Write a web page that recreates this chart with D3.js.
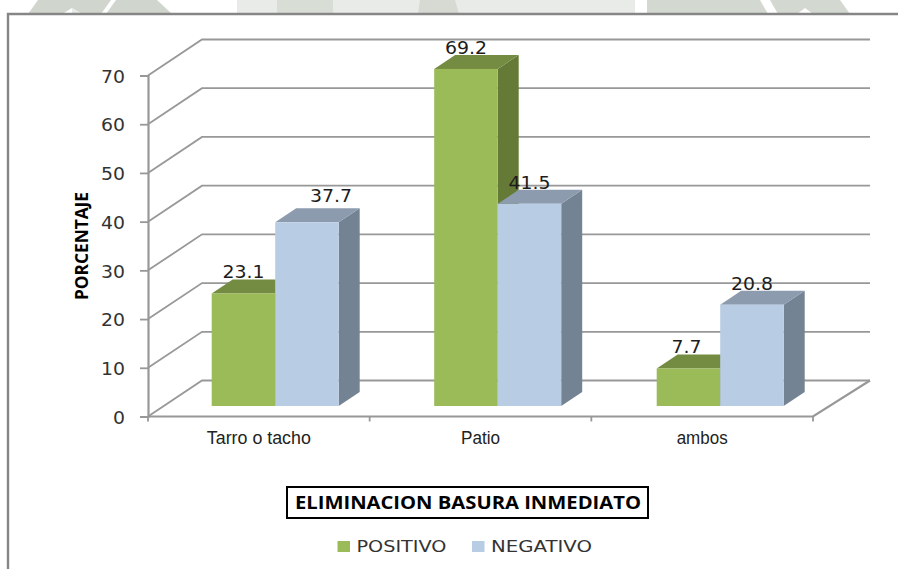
<!DOCTYPE html>
<html><head><meta charset="utf-8">
<script src="https://cdn.jsdelivr.net/npm/d3@7/dist/d3.min.js"></script>
<style>html,body{margin:0;padding:0;background:#fff}svg{display:block}</style>
</head><body><div id="c"></div>
<script>
const categories = ["Tarro o tacho", "Patio", "ambos"];
const seriesNames = ["POSITIVO", "NEGATIVO"];
const positivo = [23.1, 69.2, 7.7];
const negativo = [37.7, 41.5, 20.8];
const yTicks = [0, 10, 20, 30, 40, 50, 60, 70];

const W = 898, H = 569;
const svg = d3.select("#c").append("svg").attr("width", W).attr("height", H);

// faint watermark peeking out above the frame
const wm = [
  ["#d0d6cd", [[28,14],[38,0],[111,0],[101,14],[82,14],[72,8],[62,14]]],
  ["#e7eae6", [[72,14],[72,8],[82,14]]],
  ["#d0d6cd", [[116,0],[157,0],[172,14],[106,14]]],
  ["#e8ebe7", [[237,0],[635,0],[635,14],[237,14]]],
  ["#d8ddd6", [[277,0],[333,0],[333,14],[277,14]]],
  ["#d6dad3", [[420,0],[455,0],[459,14],[418,14]]],
  ["#d3d8d0", [[647,0],[760,0],[768,14],[647,14]]],
  ["#d3d8d0", [[770,0],[840,0],[850,14],[813,14],[805,8],[797,14],[778,14]]]
];
svg.append("g").selectAll("path").data(wm).join("path")
  .attr("d", d => d3.line()(d[1]) + "Z").attr("fill", d => d[0]);

// outer frame
svg.append("path").attr("d", "M8,569V14H898").attr("fill", "#fff")
  .attr("stroke", "#868686").attr("stroke-width", 2.4);

const y = d3.scaleLinear().domain([0, 70]).range([416.5, 75.5]);
const x = d3.scaleBand().domain(categories).range([148, 813]);
const barX = d3.scaleBand().domain(categories).range([148.7, 816.2]);
const inner = d3.scaleBand().domain(seriesNames).range([63, 190]);
const depth = { dx: 54, dy: 36 };        // chart wall depth
const barDepth = { dx: 21, dy: 14 };     // bar depth
const barBaseShift = 10.5;               // bars sit inside the floor
const gridColor = "#989898";

// gridlines: slanted wall segment + back wall
const grid = svg.append("g");
grid.selectAll("path").data(yTicks).join("path")
  .attr("d", t => `M148,${y(t)}L${148 + depth.dx},${y(t) - depth.dy}H870`)
  .attr("fill", "none").attr("stroke", gridColor).attr("stroke-width", 1.8);

// floor
svg.append("path")
  .attr("d", `M148,${y(0)}H813L870,${y(0) - depth.dy}`)
  .attr("fill", "none").attr("stroke", gridColor).attr("stroke-width", 2.2);

// y axis
const yAxis = d3.axisLeft(y).tickValues(yTicks).tickSize(8).tickPadding(15);
const gy = svg.append("g").attr("transform", "translate(148,0)").call(yAxis);
gy.select(".domain").attr("stroke", gridColor).attr("stroke-width", 2.2);
gy.selectAll(".tick line").attr("stroke", gridColor).attr("stroke-width", 1.8);
gy.selectAll(".tick text")
  .attr("font-family", "'DejaVu Sans'").attr("font-size", 17.5).attr("fill", "#333")
  .attr("dy", "0.38em")
  .attr("textLength", d => String(d).length * 12).attr("lengthAdjust", "spacingAndGlyphs");

// x axis boundary ticks
svg.append("g").selectAll("line")
  .data(categories.map(c => x(c)).concat([x.range()[1]])).join("line")
  .attr("x1", d => d).attr("x2", d => d)
  .attr("y1", y(0)).attr("y2", y(0) + 5)
  .attr("stroke", gridColor).attr("stroke-width", 1.8);

// x axis labels
const xAxis = d3.axisBottom(x).tickSize(0).tickPadding(0);
const gx = svg.append("g").attr("transform", `translate(0,${y(0)})`).call(xAxis);
gx.select(".domain").remove();
gx.selectAll(".tick text")
  .attr("font-family", "'Liberation Sans'").attr("font-size", 17.5).attr("fill", "#222")
  .attr("y", 27.5).attr("dy", 0)
  .attr("textLength", d => ({ "Tarro o tacho": 104, "Patio": 39, "ambos": 51 })[d])
  .attr("lengthAdjust", "spacingAndGlyphs");

// bars
const styles = {
  POSITIVO: { front: "#9bbb59", top: "#748b42", side: "#667a37" },
  NEGATIVO: { front: "#b8cce4", top: "#8d9bae", side: "#748393" }
};
const rows = [];
seriesNames.forEach((s, si) => {
  const vals = si === 0 ? positivo : negativo;
  categories.forEach((c, i) => rows.push({ s, c, v: vals[i] }));
});
const y0 = y(0) - barBaseShift;
const bars = svg.append("g").selectAll("g").data(rows).join("g");
const geom = d => {
  const l = barX(d.c) + inner(d.s), w = inner.bandwidth();
  return { l, w, r: l + w, t: y0 - (y(0) - y(d.v)) };
};
bars.append("path").attr("fill", d => styles[d.s].side).attr("d", d => {
  const g = geom(d);
  return `M${g.r},${g.t}l${barDepth.dx},${-barDepth.dy}V${y0 - barDepth.dy}L${g.r},${y0}Z`;
});
bars.append("path").attr("fill", d => styles[d.s].top).attr("d", d => {
  const g = geom(d);
  return `M${g.l},${g.t}l${barDepth.dx},${-barDepth.dy}h${g.w}l${-barDepth.dx},${barDepth.dy}Z`;
});
bars.append("rect").attr("fill", d => styles[d.s].front)
  .attr("x", d => geom(d).l).attr("y", d => geom(d).t)
  .attr("width", d => geom(d).w).attr("height", d => y0 - geom(d).t);

// data labels
const labelNudge = d => (d.s === "NEGATIVO" && d.c === "Tarro o tacho") ? { dx: 24, dy: -20 } : { dx: d.v < 10 ? -2 : 0, dy: -15 };
svg.append("g").selectAll("text").data(rows).join("text")
  .attr("x", d => geom(d).l + geom(d).w / 2 + labelNudge(d).dx)
  .attr("y", d => geom(d).t + labelNudge(d).dy)
  .attr("text-anchor", "middle")
  .attr("font-family", "'DejaVu Sans'").attr("font-size", 17.5).attr("fill", "#1c1c1c")
  .attr("textLength", d => String(d.v).length === 4 ? 42 : 30)
  .attr("lengthAdjust", "spacingAndGlyphs")
  .text(d => d.v.toFixed(1));

// axis title
svg.append("text")
  .attr("transform", "translate(88,246) rotate(-90)")
  .attr("text-anchor", "middle")
  .attr("font-family", "'Open Sans'").attr("font-weight", 700).attr("font-size", 18.5).attr("fill", "#000")
  .attr("textLength", 108).attr("lengthAdjust", "spacingAndGlyphs")
  .text("PORCENTAJE");

// chart title box
svg.append("rect").attr("x", 287).attr("y", 487).attr("width", 361).attr("height", 31)
  .attr("fill", "#fff").attr("stroke", "#000").attr("stroke-width", 2);
svg.append("text").attr("x", 295).attr("y", 509)
  .attr("font-family", "'Open Sans'").attr("font-weight", 700).attr("font-size", 17.5).attr("fill", "#000")
  .attr("textLength", 346).attr("lengthAdjust", "spacingAndGlyphs")
  .text("ELIMINACION BASURA INMEDIATO");

// legend
const legendX = d3.scaleOrdinal().domain(seriesNames).range([337.5, 472]);
const legendW = d3.scaleOrdinal().domain(seriesNames).range([90, 101]);
const lg = svg.append("g").selectAll("g").data(seriesNames).join("g")
  .attr("transform", d => `translate(${legendX(d)},541)`);
lg.append("rect").attr("width", 12.5).attr("height", 11).attr("fill", d => styles[d].front);
lg.append("text").attr("x", 19).attr("y", 11)
  .attr("font-family", "'DejaVu Sans'").attr("font-size", 16.5).attr("fill", "#333")
  .attr("textLength", d => legendW(d)).attr("lengthAdjust", "spacingAndGlyphs")
  .text(d => d);
</script></body></html>
